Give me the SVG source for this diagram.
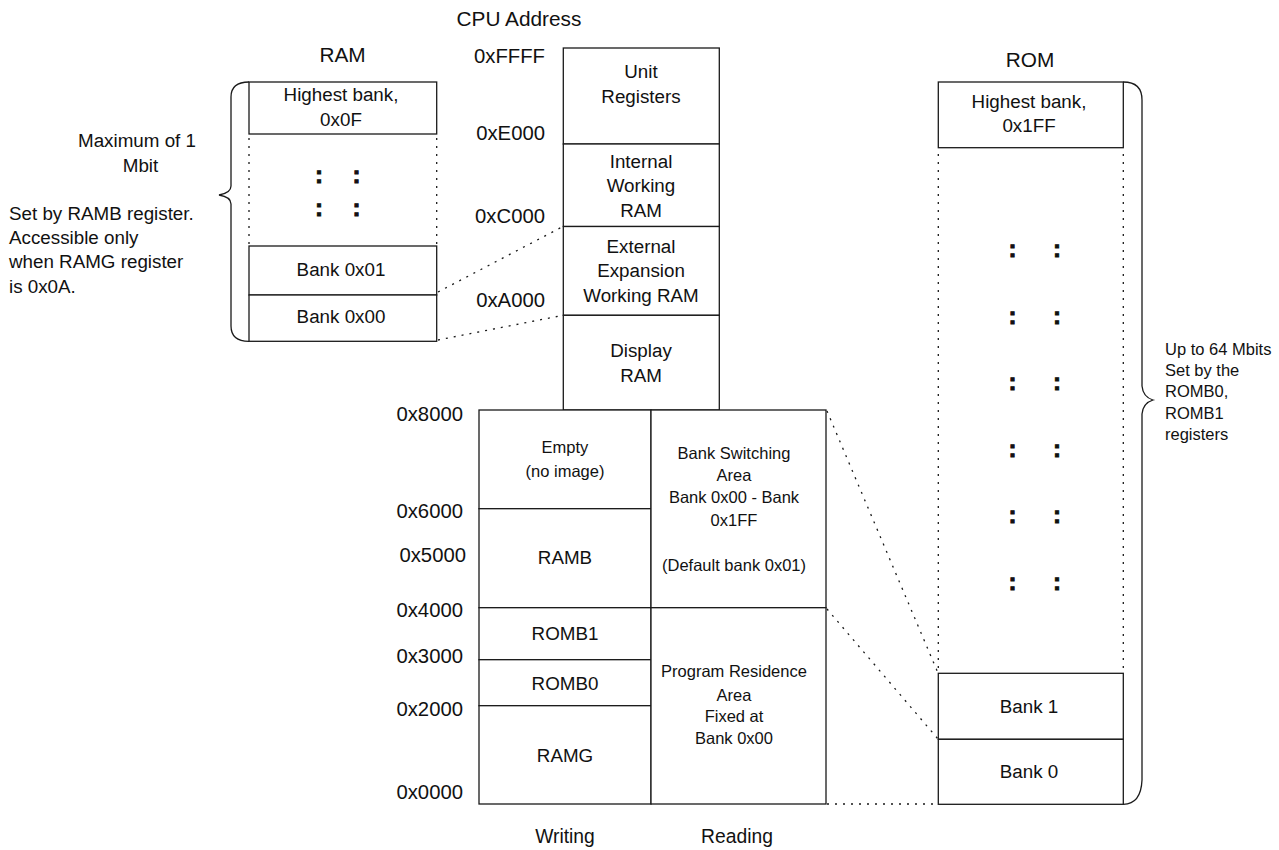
<svg xmlns="http://www.w3.org/2000/svg" width="1279" height="850" viewBox="0 0 1279 850">
<style>
.box{fill:#fff;stroke:#1a1a1a;stroke-width:1.3}
.ln{fill:none;stroke:#1a1a1a;stroke-width:1.3}
.dot{fill:none;stroke:#1a1a1a;stroke-width:1.3;stroke-dasharray:2 6}
text{font-family:"Liberation Sans",Arial,sans-serif;fill:#111}
.l{font-size:18.8px;text-anchor:middle}
.s{font-size:16.5px;text-anchor:middle}
.h{font-size:20.3px;text-anchor:end}
.t{font-size:20.8px;text-anchor:middle}
.c{font-size:24px;font-weight:bold;text-anchor:middle;stroke:#111;stroke-width:0.9}
.n{font-size:18.8px}
.r{font-size:16.5px}
</style>
<rect width="1279" height="850" fill="#fff"/>

<g id="connectors">
<path class="dot" d="M438,292 L563,226.5"/>
<path class="dot" d="M438,340 L563,315.3"/>
<path class="dot" d="M827,411 L938,673"/>
<path class="dot" d="M827,609 L938,739"/>
<path class="dot" d="M827,804 L938,804"/>
</g>

<g id="cpu-title">
<text class="t" x="519" y="26">CPU Address</text>
<text class="h" x="545" y="63">0xFFFF</text>
<text class="h" x="545" y="140">0xE000</text>
<text class="h" x="545" y="223">0xC000</text>
<text class="h" x="545" y="307">0xA000</text>
<text class="h" x="463" y="421">0x8000</text>
<text class="h" x="463" y="518">0x6000</text>
<text class="h" x="466" y="562">0x5000</text>
<text class="h" x="463" y="617">0x4000</text>
<text class="h" x="463" y="663">0x3000</text>
<text class="h" x="463" y="716">0x2000</text>
<text class="h" x="463" y="799">0x0000</text>
</g>

<g id="unit-registers">
<rect class="box" x="563.3" y="48" width="156" height="96"/>
<text class="l" x="641" y="78">Unit</text>
<text class="l" x="641" y="103">Registers</text>
</g>
<g id="internal-ram">
<rect class="box" x="563.3" y="144" width="156" height="82.5"/>
<text class="l" x="641" y="168">Internal</text>
<text class="l" x="641" y="192">Working</text>
<text class="l" x="641" y="217">RAM</text>
</g>
<g id="external-ram">
<rect class="box" x="563.3" y="226.5" width="156" height="88.8"/>
<text class="l" x="641" y="253">External</text>
<text class="l" x="641" y="277">Expansion</text>
<text class="l" x="641" y="302">Working RAM</text>
</g>
<g id="display-ram">
<rect class="box" x="563.3" y="315.3" width="156" height="94.7"/>
<text class="l" x="641" y="357">Display</text>
<text class="l" x="641" y="382">RAM</text>
</g>

<g id="empty">
<rect class="box" x="479" y="410" width="172" height="98.7"/>
<text class="s" x="565" y="453">Empty</text>
<text class="s" x="565" y="477">(no image)</text>
</g>
<g id="ramb">
<rect class="box" x="479" y="508.7" width="172" height="99"/>
<text class="l" x="565" y="564">RAMB</text>
</g>
<g id="romb1">
<rect class="box" x="479" y="607.7" width="172" height="52"/>
<text class="l" x="565" y="640">ROMB1</text>
</g>
<g id="romb0">
<rect class="box" x="479" y="659.7" width="172" height="46"/>
<text class="l" x="565" y="690">ROMB0</text>
</g>
<g id="ramg">
<rect class="box" x="479" y="705.7" width="172" height="98.3"/>
<text class="l" x="565" y="762">RAMG</text>
</g>
<g id="bank-switching">
<rect class="box" x="651" y="410" width="175" height="197.7"/>
<text class="s" x="734" y="459">Bank Switching</text>
<text class="s" x="734" y="481">Area</text>
<text class="s" x="734" y="503">Bank 0x00 - Bank</text>
<text class="s" x="734" y="526">0x1FF</text>
<text class="s" x="734" y="571">(Default bank 0x01)</text>
</g>
<g id="program-residence">
<rect class="box" x="651" y="607.7" width="175" height="196.3"/>
<text class="s" x="734" y="677">Program Residence</text>
<text class="s" x="734" y="701">Area</text>
<text class="s" x="734" y="722">Fixed at</text>
<text class="s" x="734" y="744">Bank 0x00</text>
</g>
<g id="column-labels">
<text class="l" x="565" y="843" style="font-size:19.3px">Writing</text>
<text class="l" x="737" y="843" style="font-size:19.3px">Reading</text>
</g>

<g id="ram">
<text class="t" x="342.5" y="62">RAM</text>
<path class="dot" d="M249,138 V244 M436.7,138 V244"/>
<rect class="box" x="249" y="82" width="187.7" height="52"/>
<text class="l" x="341" y="101">Highest bank,</text>
<text class="l" x="341" y="126">0x0F</text>
<text class="c" x="319" y="183">:</text>
<text class="c" x="356.5" y="183">:</text>
<text class="c" x="319" y="216">:</text>
<text class="c" x="356.5" y="216">:</text>
<rect class="box" x="249" y="246" width="187.7" height="49"/>
<text class="l" x="341" y="276">Bank 0x01</text>
<rect class="box" x="249" y="295" width="187.7" height="46.3"/>
<text class="l" x="341" y="323">Bank 0x00</text>
<path class="ln" d="M249,82 Q231,82 231,97 L231,186 Q231,193 219,195 Q231,197 231,204 L231,326 Q231,341.3 249,341.3"/>
</g>

<g id="ram-note">
<text class="n" x="137" y="147" text-anchor="middle">Maximum of 1</text>
<text class="n" x="140.5" y="172" text-anchor="middle">Mbit</text>
<text class="n" x="9" y="220">Set by RAMB register.</text>
<text class="n" x="9" y="244">Accessible only</text>
<text class="n" x="9" y="268">when RAMG register</text>
<text class="n" x="9" y="293">is 0x0A.</text>
</g>

<g id="rom">
<text class="t" x="1030" y="67">ROM</text>
<path class="dot" d="M938.3,154 V670 M1123.3,154 V670"/>
<rect class="box" x="938.3" y="82" width="185" height="65.7"/>
<text class="l" x="1029" y="108">Highest bank,</text>
<text class="l" x="1029" y="132">0x1FF</text>
<text class="c" x="1012.5" y="257">:</text>
<text class="c" x="1057" y="257">:</text>
<text class="c" x="1012.5" y="323.5">:</text>
<text class="c" x="1057" y="323.5">:</text>
<text class="c" x="1012.5" y="390">:</text>
<text class="c" x="1057" y="390">:</text>
<text class="c" x="1012.5" y="456.7">:</text>
<text class="c" x="1057" y="456.7">:</text>
<text class="c" x="1012.5" y="523.3">:</text>
<text class="c" x="1057" y="523.3">:</text>
<text class="c" x="1012.5" y="590">:</text>
<text class="c" x="1057" y="590">:</text>
<rect class="box" x="938.3" y="673.3" width="185" height="66"/>
<text class="l" x="1029" y="713">Bank 1</text>
<rect class="box" x="938.3" y="739.3" width="185" height="65"/>
<text class="l" x="1029" y="778">Bank 0</text>
<path class="ln" d="M1123.3,82 Q1142,82 1142,100 L1142,386 Q1143,397 1153,400 Q1143,403 1142,414 L1142,780 Q1141,804 1123.3,804.3"/>
</g>

<g id="rom-note">
<text class="r" x="1165" y="355">Up to 64 Mbits</text>
<text class="r" x="1165" y="376">Set by the</text>
<text class="r" x="1165" y="397">ROMB0,</text>
<text class="r" x="1165" y="419">ROMB1</text>
<text class="r" x="1165" y="440">registers</text>
</g>
</svg>
